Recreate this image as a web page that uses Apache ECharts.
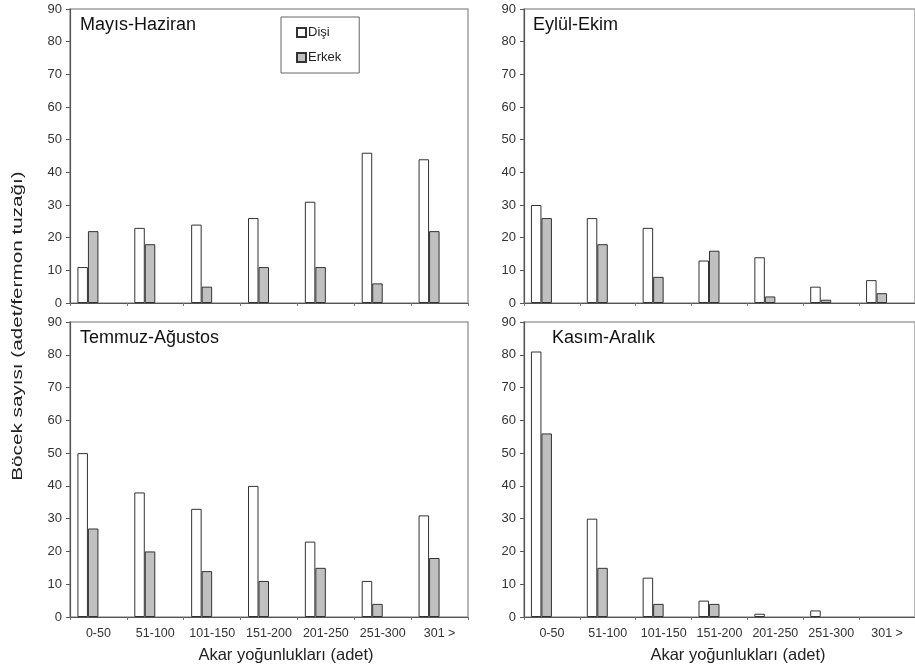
<!DOCTYPE html>
<html>
<head>
<meta charset="utf-8">
<script src="https://cdn.jsdelivr.net/npm/echarts@6/dist/echarts.min.js"></script>
<style>html,body{margin:0;padding:0;background:#fff}#c{width:915px;height:667px}</style>
</head>
<body>
<div id="c"></div>
<script>
var categories = ['0-50','51-100','101-150','151-200','201-250','251-300','301 >'];
var panelTitles = ['Mayıs-Haziran','Eylül-Ekim','Temmuz-Ağustos','Kasım-Aralık'];
var seriesNames = ['Dişi','Erkek'];
var yTicks = [0,10,20,30,40,50,60,70,80,90];
var maysHazDisi   = [11,23,24,26,31,46,44];
var maysHazErkek  = [22,18,5,11,11,6,22];
var eylEkimDisi   = [30,26,23,13,14,5,7];
var eylEkimErkek  = [26,18,8,16,2,1,3];
var temAgDisi     = [50,38,33,40,23,11,31];
var temAgErkek    = [27,20,14,11,15,4,18];
var kasAraDisi    = [81,30,12,5,1,2,0];
var kasAraErkek   = [56,15,4,4,0,0,0];
var xAxisTitle = 'Akar yoğunlukları (adet)';
var yAxisTitle = 'Böcek sayısı (adet/fermon tuzağı)';

var panelData = [[maysHazDisi,maysHazErkek],[eylEkimDisi,eylEkimErkek],[temAgDisi,temAgErkek],[kasAraDisi,kasAraErkek]];
var grids = [
  {left:70, top:9, width:398, height:294},
  {left:524, top:9, width:397, height:294},
  {left:70, top:322, width:398, height:295},
  {left:524, top:322, width:397, height:295}
];
var titlePos = [[80,16],[533,16],[80,329],[552,329]];
var FONT = 'Liberation Sans, Arial, sans-serif';

function barData(values){
  return values.map(function(v){
    return v === 0 ? {value:v, itemStyle:{borderWidth:0}} : v;
  });
}

var chart = echarts.init(document.getElementById('c'));
var option = {
  animation:false,
  backgroundColor:'#fff',
  textStyle:{fontFamily:FONT},
  grid:[], xAxis:[], yAxis:[], series:[], title:[],
  legend:{
    data:seriesNames, orient:'vertical', left:281, top:17,
    padding:[9,18,9,15], itemGap:12, itemWidth:9, itemHeight:9, icon:'rect',
    borderColor:'#666', borderWidth:1, backgroundColor:'#fff',
    textStyle:{fontSize:13, color:'#222', padding:[0,0,0,-3]}
  }
};
grids.forEach(function(g,i){
  option.grid.push({left:g.left, top:g.top, width:g.width, height:g.height, show:true,
    borderColor:'#a0a0a0', borderWidth:1.5, backgroundColor:'transparent', containLabel:false});
  option.xAxis.push({type:'category', gridIndex:i, data:categories, boundaryGap:true, z:5,
    axisLine:{lineStyle:{color:'#555', width:1.2}},
    axisTick:{show:true, length:3, lineStyle:{color:'#777'}},
    axisLabel:{show:i>=2, fontSize:12.5, color:'#333', margin:10, interval:0},
    splitLine:{show:false}});
  option.yAxis.push({type:'value', gridIndex:i, min:0, max:90, interval:10, z:5,
    axisLine:{show:true, lineStyle:{color:'#555', width:1.2}},
    axisTick:{show:true, length:4, lineStyle:{color:'#555'}},
    axisLabel:{fontSize:13, color:'#333', margin:8},
    splitLine:{show:false}});
  option.series.push({name:seriesNames[0], type:'bar', xAxisIndex:i, yAxisIndex:i,
    data:barData(panelData[i][0]), barWidth:10.5, barGap:'0%',
    itemStyle:{color:'#ffffff', borderColor:'#333', borderWidth:1}});
  option.series.push({name:seriesNames[1], type:'bar', xAxisIndex:i, yAxisIndex:i,
    data:barData(panelData[i][1]), barWidth:10.5, barGap:'0%',
    itemStyle:{color:'#c0c0c0', borderColor:'#333', borderWidth:1}});
  // two empty placeholder series reserve the slots that the original layout kept
  option.series.push({name:'_a', type:'bar', xAxisIndex:i, yAxisIndex:i, data:[], barWidth:10.5, barGap:'0%'});
  option.series.push({name:'_b', type:'bar', xAxisIndex:i, yAxisIndex:i, data:[], barWidth:10.5, barGap:'0%'});
  option.title.push({text:panelTitles[i], left:titlePos[i][0], top:titlePos[i][1], padding:0,
    textStyle:{fontSize:18, fontWeight:'normal', color:'#111'}});
});
option.title.push({text:xAxisTitle, left:286, top:647, padding:0, textAlign:'center',
  textStyle:{fontSize:16.5, fontWeight:'normal', color:'#222'}});
option.title.push({text:xAxisTitle, left:738, top:647, padding:0, textAlign:'center',
  textStyle:{fontSize:16.5, fontWeight:'normal', color:'#222'}});
option.graphic = [{type:'text', x:18, y:326, rotation:Math.PI/2, scaleX:1.38, scaleY:1,
  style:{text:yAxisTitle, fontSize:15, fill:'#222', align:'center', verticalAlign:'middle',
    fontFamily:FONT}}];
chart.setOption(option);
</script>
</body>
</html>
